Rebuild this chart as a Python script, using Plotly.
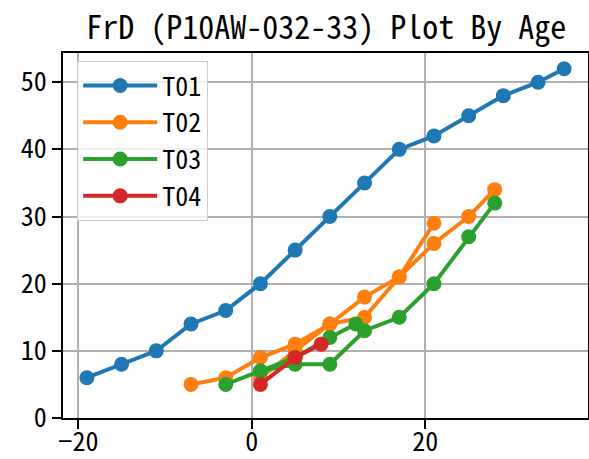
"""FrD by age line chart, recreated with Plotly."""
import plotly.graph_objects as go

# --- data ---
t01_age = [-19, -15, -11, -7, -3, 1, 5, 9, 13, 17, 21, 25, 29, 33, 36]
t01_frd = [6, 8, 10, 14, 16, 20, 25, 30, 35, 40, 42, 45, 48, 50, 52]

t02a_age = [-7, -3, 1, 5, 9, 13, 17, 21, 25, 28]
t02a_frd = [5, 6, 9, 11, 14, 18, 21, 26, 30, 34]
t02b_age = [1, 5, 9, 13, 17, 21]
t02b_frd = [6, 10, 14, 15, 21, 29]

t03a_age = [-3, 1, 5, 9, 13, 17, 21, 25, 28]
t03a_frd = [5, 7, 8, 8, 13, 15, 20, 27, 32]
t03b_age = [1, 5, 9, 12]
t03b_frd = [7, 9, 12, 14]

t04_age = [1, 5, 8]
t04_frd = [5, 9, 11]

x_ticks = [-20, 0, 20]
y_ticks = [0, 10, 20, 30, 40, 50]

FONT = "Noto Sans Mono CJK SC, DejaVu Sans Mono, monospace"

series = [
    ("T01", "#1f77b4", [(t01_age, t01_frd)]),
    ("T02", "#ff7f0e", [(t02a_age, t02a_frd), (t02b_age, t02b_frd)]),
    ("T03", "#2ca02c", [(t03a_age, t03a_frd), (t03b_age, t03b_frd)]),
    ("T04", "#d62728", [(t04_age, t04_frd)]),
]

fig = go.Figure()
for name, color, parts in series:
    for i, (xs, ys) in enumerate(parts):
        fig.add_trace(go.Scatter(
            x=xs, y=ys, mode="lines+markers", name=name,
            legendgroup=name, showlegend=(i == 0),
            line=dict(color=color, width=4),
            marker=dict(color=color, size=15),
        ))

axis_common = dict(
    showline=True, mirror=True, linecolor="black", linewidth=2,
    showgrid=True, gridcolor="#b0b0b0", gridwidth=2,
    zeroline=False, ticks="outside", ticklen=9, tickwidth=2, tickcolor="black",
    tickfont=dict(family=FONT, size=26, color="black"),
    automargin=False,
)
fig.update_xaxes(range=[-21.75, 38.75], tickvals=x_ticks, ticklabelstandoff=-9, **axis_common)
fig.update_yaxes(range=[0, 54.35], tickvals=y_ticks, **axis_common)

fig.update_layout(
    width=589, height=459,
    margin=dict(l=63, r=1, t=53, b=41),
    plot_bgcolor="white", paper_bgcolor="white",
    title=dict(text="FrD (P10AW-032-33) Plot By Age", x=0.554, xanchor="center",
               yref="container", y=0.94, yanchor="middle",
               font=dict(family=FONT, size=32, color="black")),
    legend=dict(x=0.027, y=0.978, xanchor="left", yanchor="top",
                bgcolor="rgba(255,255,255,0.8)", bordercolor="#cccccc", borderwidth=1,
                tracegroupgap=0, itemwidth=74,
                font=dict(family=FONT, size=26, color="black")),
    showlegend=True,
)

# page body has an 8px default margin; drop it so the figure fills the window
fig.write_html("out.html", config={"displayModeBar": False},
               post_script="document.body.style.margin='0';")
